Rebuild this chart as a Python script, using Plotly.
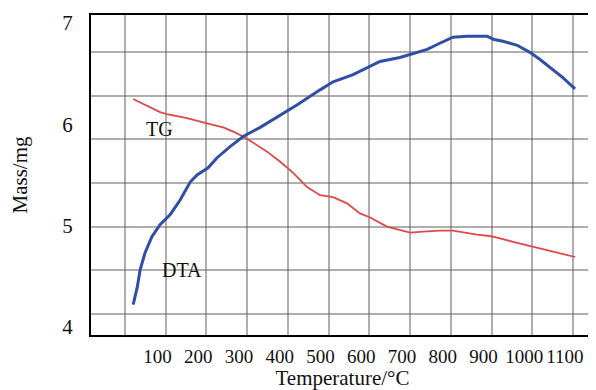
import plotly.graph_objects as go

# Data
dta_temp = [40, 50, 57, 69, 86, 106, 131, 155, 180, 197, 224, 246, 278, 310, 352, 393,
            442, 499, 531, 580, 622, 646, 695, 727, 762, 793, 825, 860, 909, 924, 948,
            983, 1014, 1039, 1071, 1095, 1125]
dta_mass = [4.22, 4.39, 4.56, 4.73, 4.89, 5.01, 5.11, 5.25, 5.43, 5.50, 5.57, 5.67, 5.78,
            5.88, 5.97, 6.07, 6.19, 6.34, 6.42, 6.49, 6.57, 6.62, 6.66, 6.70, 6.74, 6.80,
            6.86, 6.87, 6.87, 6.84, 6.82, 6.78, 6.71, 6.64, 6.54, 6.46, 6.35]

tg_temp = [40, 106, 123, 172, 221, 261, 290, 310, 334, 369, 401, 433, 467, 499, 531, 565,
           597, 622, 663, 695, 720, 752, 793, 825, 850, 884, 909, 924, 973, 1022, 1071, 1125]
tg_mass = [6.25, 6.12, 6.10, 6.06, 6.01, 5.97, 5.92, 5.88, 5.82, 5.73, 5.63, 5.52, 5.38,
           5.30, 5.28, 5.22, 5.12, 5.08, 4.99, 4.96, 4.93, 4.94, 4.95, 4.95, 4.93, 4.91,
           4.90, 4.89, 4.84, 4.79, 4.74, 4.69]

x_ticks = [100, 200, 300, 400, 500, 600, 700, 800, 900, 1000, 1100]
y_ticks = [4, 5, 6, 7]

serif = "Liberation Serif, Times New Roman, serif"

fig = go.Figure()
fig.add_trace(go.Scatter(x=tg_temp, y=tg_mass, mode="lines", name="TG",
                         line=dict(color="#e04848", width=1.8), showlegend=False))
fig.add_trace(go.Scatter(x=dta_temp, y=dta_mass, mode="lines", name="DTA",
                         line=dict(color="#2f4fa6", width=3), showlegend=False))

fig.add_annotation(x=104, y=5.95, text="TG", showarrow=False,
                   font=dict(family=serif, size=20, color="#111"))
fig.add_annotation(x=160, y=4.56, text="DTA", showarrow=False,
                   font=dict(family=serif, size=20, color="#111"))

grid_col = "rgba(95,95,95,0.5)"
fig.update_xaxes(range=[-63.5, 1171.5], tickmode="array", tickvals=x_ticks,
                 ticks="", showgrid=False, zeroline=False, tickangle=0, automargin=False,
                 showline=True, linecolor="black", linewidth=2, mirror=True,
                 tickfont=dict(family=serif, size=19, color="#111"),
                 ticklabelstandoff=3,
                 title=dict(text="Temperature/°C", font=dict(family=serif, size=21, color="#111"),
                            standoff=0),
                 minor=dict(tickmode="linear", tick0=20, dtick=100, showgrid=True,
                            gridcolor=grid_col, gridwidth=2, ticks=""))
fig.update_yaxes(range=[3.92, 7.079], tickmode="array", tickvals=y_ticks,
                 ticks="", showgrid=False, zeroline=False, automargin=False,
                 showline=True, linecolor="black", linewidth=2, mirror=True,
                 tickfont=dict(family=serif, size=21, color="#111"),
                 ticklabelstandoff=12,
                 title=dict(text="Mass/mg", font=dict(family=serif, size=21, color="#111"),
                            standoff=29),
                 minor=dict(tickmode="linear", tick0=4.127, dtick=0.4311, showgrid=True,
                            gridcolor=grid_col, gridwidth=2, ticks=""))

# the page body adds an 8px margin, so the figure is sized to fit the 596x390 window
fig.update_layout(width=588, height=382, autosize=False,
                  margin=dict(l=83, r=2, t=7, b=55),
                  plot_bgcolor="white", paper_bgcolor="white")

fig.write_html("out.html")
